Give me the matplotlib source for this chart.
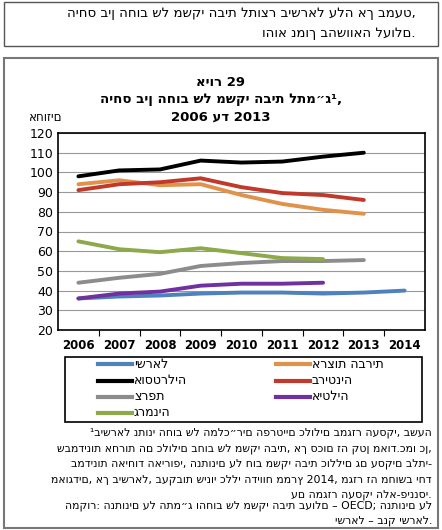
import matplotlib
matplotlib.use("Agg")
import matplotlib.pyplot as plt
from matplotlib.patches import Rectangle

plt.rcParams['font.family'] = ['DejaVu Sans']

years = [2006, 2007, 2008, 2009, 2010, 2011, 2012, 2013, 2014]
israel = [36, 37, 37.5, 38.5, 39, 39, 38.5, 39, 40]
usa = [94, 96, 93.5, 94, 88.5, 84, 81, 79]
australia = [98, 101, 101.5, 106, 105, 105.5, 108, 110]
uk = [91, 94, 95, 97, 92.5, 89.5, 88.5, 86]
france = [44, 46.5, 48.5, 52.5, 54, 55, 55, 55.5]
italy = [36, 38.5, 39.5, 42.5, 43.5, 43.5, 44]
germany = [65, 61, 59.5, 61.5, 59, 56.5, 56]

series = [
    ("ישראל", israel, "#4f81bd"),
    ("ארצות הברית", usa, "#e0924a"),
    ("אוסטרליה", australia, "#000000"),
    ("בריטניה", uk, "#c0392b"),
    ("צרפת", france, "#8c8c8c"),
    ("איטליה", italy, "#7030a0"),
    ("גרמניה", germany, "#8ea84a"),
]

fig = plt.figure(figsize=(4.42, 5.30), dpi=100)

fig.add_artist(Rectangle((4/442, 1-46/530), 434/442, 44/530, transform=fig.transFigure,
                         fill=False, lw=1, ec="#555555"))
fig.add_artist(Rectangle((4/442, 2/530), 434/442, 1-60/530, transform=fig.transFigure,
                         fill=False, lw=1.5, ec="#777777"))
fig.text(0.94, 1-14/530, "היחס בין החוב של משקי הבית לתוצר בישראל עלה אך במעט,",
         ha="right", va="center", fontsize=9.5)
fig.text(0.94, 1-33/530, "והוא נמוך בהשוואה לעולם.", ha="right", va="center", fontsize=9.5)

fig.text(0.5, 1-82/530, "איור 29", ha="center", va="center", fontsize=9.5, fontweight="bold")
fig.text(0.5, 1-100/530, "היחס בין החוב של משקי הבית לתמ״ג¹,", ha="center", va="center",
         fontsize=9.5, fontweight="bold")
fig.text(0.5, 1-117/530, "2006 עד 2013", ha="center", va="center", fontsize=9.5, fontweight="bold")
fig.text(62/442, 1-117/530, "אחוזים", ha="right", va="center", fontsize=8.5)

ax = fig.add_axes([58/442, 1-330/530, 367/442, 197/530])
x = list(range(len(years)))
for name, vals, col in series:
    ax.plot(x[:len(vals)], vals, color=col, lw=2.8, solid_capstyle="round")
ax.set_ylim(20, 120)
ax.set_yticks(range(20, 121, 10))
ax.set_xlim(-0.5, len(years)-0.5)
ax.set_xticks([i+0.5 for i in range(len(years)-1)])
ax.set_xticklabels([])
ax.tick_params(axis="x", length=4, direction="out")
ax.tick_params(axis="y", length=0, labelsize=9)
ax.grid(axis="y", color="#999999", lw=0.8)
for s in ax.spines.values():
    s.set_linewidth(1.2)
for i, yv in enumerate(years):
    ax.text(i, -0.08, str(yv), transform=ax.get_xaxis_transform(), ha="center", va="center",
            fontsize=8.5, fontweight="bold")

fig.add_artist(Rectangle((65/442, 1-422/530), 357/442, 65/530, transform=fig.transFigure,
                         fill=False, lw=1.2, ec="black"))
rows_y = [364, 381, 397, 413]
left_items = [series[0], series[2], series[4], series[6]]
right_items = [series[1], series[3], series[5]]
for (name, _, col), yy in zip(left_items, rows_y):
    yf = 1-yy/530
    fig.add_artist(plt.Line2D([98/442, 132/442], [yf, yf], color=col, lw=3, transform=fig.transFigure))
    fig.text(134/442, yf, name, ha="left", va="center", fontsize=9)
for (name, _, col), yy in zip(right_items, rows_y):
    yf = 1-yy/530
    fig.add_artist(plt.Line2D([276/442, 310/442], [yf, yf], color=col, lw=3, transform=fig.transFigure))
    fig.text(312/442, yf, name, ha="left", va="center", fontsize=9)

foot = [
    "¹בישראל נתוני החוב של המלכ״רים הפרטיים כלולים במגזר העסקי, בשעה",
    "שבמדינות אחרות הם כלולים בחוב של משקי הבית, אך סכום זה קטן מאוד.כמו כן,",
    "במדינות האיחוד האירופי, הנתונים על חוב משקי הבית כוללים גם עסקים בלתי-",
    "מאוגדים, אך בישראל, בעקבות שינוי כללי הדיווח ממרץ 2014, מגזר זה מחושב יחד",
    "עם המגזר העסקי הלא-פיננסי.",
]
for i, ln in enumerate(foot):
    fig.text(432/442, 1-(433+i*15.5)/530, ln, ha="right", va="center", fontsize=7.8)
fig.text(432/442, 1-506/530, "המקור: הנתונים על התמ״ג והחוב של משקי הבית בעולם – OECD; הנתונים על",
         ha="right", va="center", fontsize=7.8)
fig.text(432/442, 1-521/530, "ישראל – בנק ישראל.", ha="right", va="center", fontsize=7.8)

fig.savefig("out.png", dpi=100)
